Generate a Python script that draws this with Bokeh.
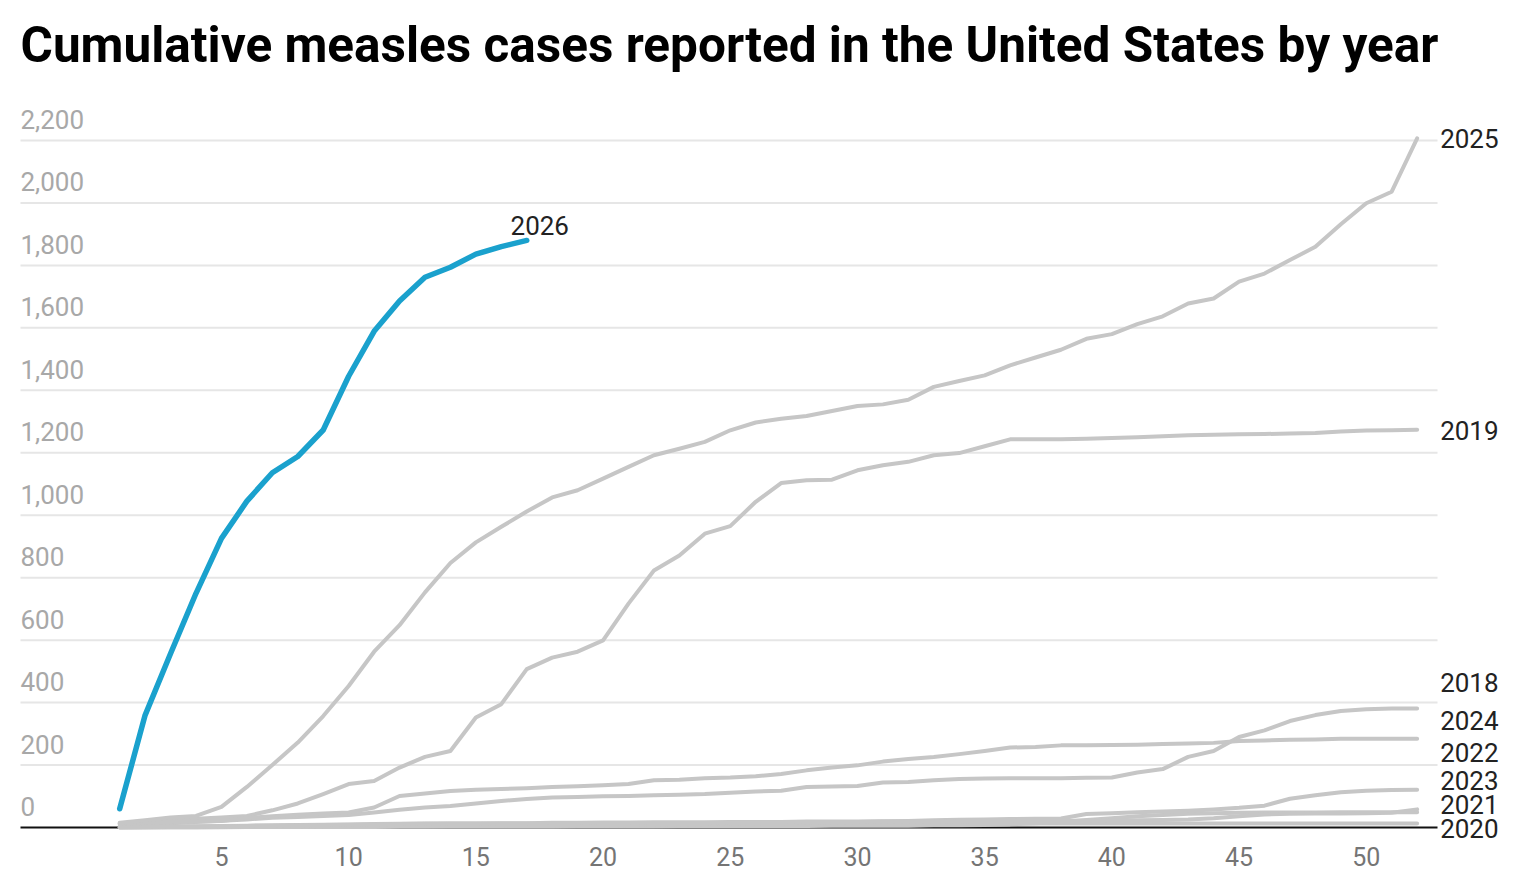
from bokeh.plotting import figure
from bokeh.models import Range1d
from bokeh.core.properties import value
from bokeh.embed import file_html
from bokeh.resources import INLINE

# weekly cumulative measles cases
weeks = list(range(1, 53))
weeks_2026 = list(range(1, 18))

cases_2018 = [8, 12, 14, 18, 22, 26, 31, 34, 37, 40,
              48, 57, 64, 69, 77, 85, 91, 96, 98, 100,
              101, 103, 105, 107, 111, 115, 118, 130, 131, 133,
              144, 146, 151, 155, 157, 158, 158, 158, 159, 160,
              176, 187, 226, 245, 290, 311, 341, 360, 373, 379,
              381, 381]
cases_2019 = [12, 17, 22, 28, 32, 37, 55, 77, 107, 139,
              149, 192, 226, 245, 352, 395, 507, 544, 563, 599,
              717, 823, 871, 941, 965, 1043, 1103, 1112, 1114, 1144,
              1160, 1171, 1192, 1199, 1221, 1243, 1243, 1243, 1245, 1247,
              1250, 1253, 1256, 1258, 1259, 1260, 1262, 1263, 1268, 1271,
              1272, 1274]
cases_2020 = [1, 2, 3, 4, 5, 6, 7, 8, 9, 10,
              11, 12, 13, 13, 13, 13, 13, 13, 13, 13,
              13, 13, 13, 13, 13, 13, 13, 13, 13, 13,
              13, 13, 13, 13, 13, 13, 13, 13, 13, 13,
              13, 13, 13, 13, 13, 13, 13, 13, 13, 13,
              13, 13]
cases_2021 = [1, 1, 1, 1, 2, 2, 2, 2, 2, 2,
              2, 3, 3, 3, 3, 3, 3, 3, 4, 4,
              4, 4, 5, 5, 5, 5, 5, 5, 6, 6,
              6, 6, 7, 7, 8, 10, 14, 18, 24, 30,
              36, 40, 44, 46, 47, 48, 48, 48, 49, 49,
              49, 49]
cases_2022 = [0, 0, 1, 1, 1, 2, 2, 2, 3, 3,
              3, 4, 4, 5, 5, 5, 6, 6, 7, 7,
              8, 9, 10, 11, 12, 13, 14, 15, 16, 18,
              19, 21, 23, 25, 26, 27, 28, 29, 43, 46,
              49, 51, 54, 58, 63, 70, 92, 103, 113, 118,
              120, 121]
cases_2023 = [1, 2, 3, 3, 4, 5, 6, 7, 8, 9,
              10, 11, 12, 13, 13, 14, 14, 15, 15, 16,
              16, 17, 17, 17, 18, 18, 18, 19, 19, 19,
              20, 20, 20, 21, 21, 21, 22, 22, 22, 23,
              23, 24, 26, 30, 36, 42, 44, 45, 45, 46,
              47, 58]
cases_2024 = [13, 16, 18, 19, 21, 30, 36, 41, 45, 48,
              64, 101, 109, 117, 121, 123, 126, 130, 132, 135,
              139, 151, 153, 158, 160, 164, 171, 183, 192, 199,
              211, 219, 226, 235, 245, 256, 258, 263, 263, 264,
              265, 267, 269, 271, 277, 279, 281, 282, 284, 284,
              284, 284]
cases_2025 = [15, 23, 32, 37, 66, 130, 200, 272, 357, 453,
              563, 648, 753, 847, 913, 963, 1012, 1057, 1080, 1117,
              1155, 1192, 1213, 1235, 1272, 1297, 1309, 1318, 1334, 1350,
              1355, 1370, 1411, 1430, 1448, 1480, 1505, 1530, 1565, 1580,
              1612, 1637, 1678, 1694, 1748, 1774, 1817, 1860, 1932, 1999,
              2036, 2207]
cases_2026 = [60, 360, 557, 750, 926, 1045, 1136, 1188, 1273, 1445,
              1589, 1686, 1762, 1794, 1836, 1860, 1880]

past_years = {"2018": cases_2018, "2019": cases_2019, "2020": cases_2020,
              "2021": cases_2021, "2022": cases_2022, "2023": cases_2023,
              "2024": cases_2024, "2025": cases_2025}

y_ticks = [0, 200, 400, 600, 800, 1000, 1200, 1400, 1600, 1800, 2000, 2200]
x_ticks = [5, 10, 15, 20, 25, 30, 35, 40, 45, 50]

title = "Cumulative measles cases reported in the United States by year"

# pixel nudges (upwards) so the end labels don't collide
label_nudge = {"2018": 26, "2019": -1, "2020": -5, "2021": 8,
               "2022": 37, "2023": 29, "2024": 18, "2025": 0}

FONT = value("Roboto")
GREY = "#c6c6c6"
BLUE = "#1aa1cd"

# layout in canvas pixels; the frame is the whole canvas
W, H = 1528, 880
X_WEEK1, PX_WEEK = 119.2, 25.44
Y_ZERO, PX_CASE = 827, 0.31227
LEFT_PX, RIGHT_PX = 20, 1437


def wx(px):
    return 1 + (px - X_WEEK1) / PX_WEEK


def vy(px):
    return (Y_ZERO - px) / PX_CASE


xl, xr = wx(LEFT_PX), wx(RIGHT_PX)

p = figure(width=W, height=H, output_backend="svg", toolbar_location=None,
           x_range=Range1d(wx(0), wx(W)), y_range=Range1d(vy(H), vy(0)),
           x_axis_location=None, y_axis_location=None,
           min_border=0)
p.outline_line_color = None
p.xgrid.visible = False
p.ygrid.visible = False

# gridlines and baseline
p.segment(x0=xl, x1=xr, y0=y_ticks[1:], y1=y_ticks[1:],
          line_color="#e6e6e6", line_width=2)
p.segment(x0=xl, x1=xr, y0=0, y1=0, line_color="#111111", line_width=2)

# y tick labels sit above their gridlines
p.text(x=xl, y=y_ticks, text=[f"{v:,}" for v in y_ticks], y_offset=-21,
       text_font=FONT, text_font_size="26px", text_color="#a8a8a8",
       text_baseline="middle", text_align="left")

# x tick labels
p.text(x=x_ticks, y=0, text=[str(t) for t in x_ticks], y_offset=29,
       text_font=FONT, text_font_size="25px", text_color="#757575",
       text_baseline="middle", text_align="center")

for year, vals in past_years.items():
    p.line(weeks, vals, line_color=GREY, line_width=4,
           line_cap="round", line_join="round")
    p.text(x=weeks[-1], y=vals[-1], text=[year],
           x_offset=23, y_offset=-label_nudge[year],
           text_font=FONT, text_font_size="26px", text_color="#222222",
           text_baseline="middle", text_align="left")

p.line(weeks_2026, cases_2026, line_color=BLUE, line_width=5.5,
       line_cap="round", line_join="round")
p.text(x=weeks_2026[-1], y=cases_2026[-1], text=["2026"],
       x_offset=13, y_offset=-15, text_align="center",
       text_font=FONT, text_font_size="26px", text_color="#222222",
       text_baseline="middle")

p.text(x=xl, y=vy(44), text=[title],
       text_font=FONT, text_font_style="bold", text_font_size="49.5px",
       text_color="#000000", text_baseline="middle", text_align="left")

open("out.html", "w").write(file_html(p, INLINE))
